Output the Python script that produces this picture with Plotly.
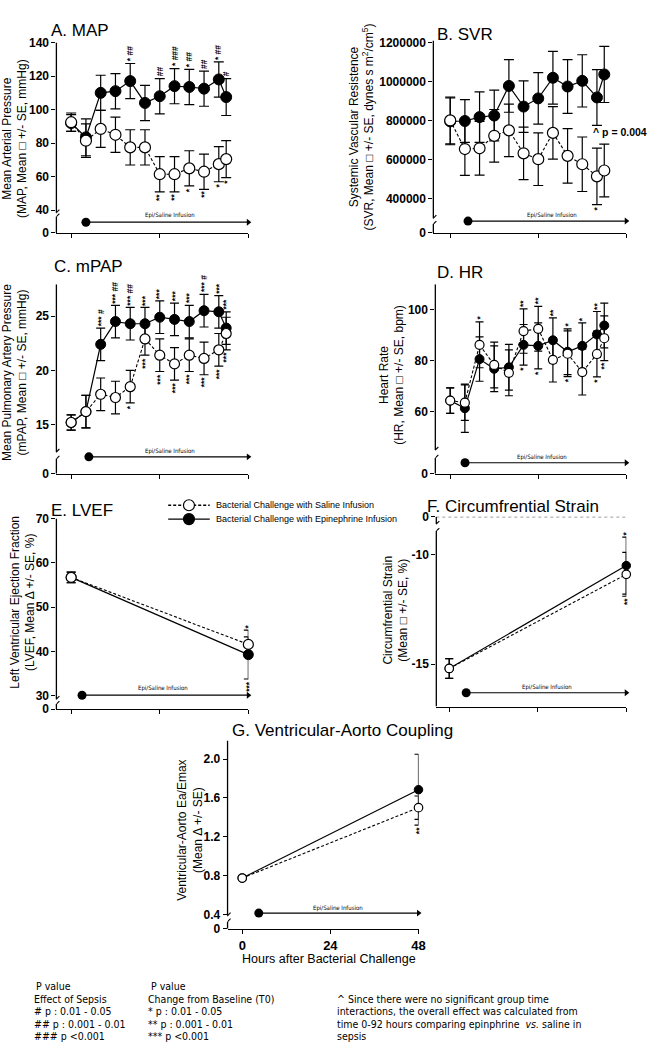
import plotly.graph_objects as go

W, H = 659, 1049
FONT = "Liberation Sans, Arial, sans-serif"
NARROW = "Liberation Sans Narrow, Arial Narrow, DejaVu Sans Condensed, Liberation Sans, Arial"

# ---------------- data ----------------
HOURS = [0, 8, 16, 24, 32, 40, 48, 56, 64, 72, 80, 84]
HOURS_2 = [0, 48]

EPI_A = [92, 83.5, 110, 111, 117, 104, 108, 114, 113.5, 112.5, 118, 107.5]
EPI_A_SE = [5, 11, 10.5, 10.5, 10.5, 10.5, 10.5, 10.5, 10.5, 10.5, 10.5, 11]
SAL_A = [92.5, 81.5, 88.5, 85, 77.5, 77.5, 61.5, 61.5, 65, 63, 67.5, 70.5]
SAL_A_SE = [5.5, 10, 11, 10.5, 10.5, 10.5, 10.5, 10.5, 10.5, 10.5, 10.5, 11]
SIG_A_UP = ["", "", "", "", "* ##", "", "##", "* ###", "* ##", "##", "* ##", "#"]
SIG_A_DN = ["", "", "", "", "", "", "**", "**", "*", "**", "*", "*"]

EPI_B = [795000, 797000, 817000, 825000, 977000, 871000, 913000, 1019000, 974000, 1003000, 918000, 1036000]
EPI_B_SE = [120000, 110000, 130000, 130000, 135000, 132000, 132000, 135000, 138000, 134000, 143000, 144000]
SAL_B = [800000, 653000, 657000, 721000, 749000, 631000, 601000, 736000, 618000, 575000, 513000, 543000]
SAL_B_SE = [120000, 135000, 138000, 135000, 135000, 135000, 135000, 135000, 140000, 140000, 145000, 135000]
SIG_B_UP = [""] * 12
SIG_B_DN = ["", "", "", "", "", "", "", "", "", "", "*", ""]

EPI_C = [15.2, 16.2, 22.4, 24.5, 24.3, 24.3, 24.9, 24.7, 24.5, 25.5, 25.4, 23.9]
EPI_C_SE = [0.7, 1.5, 1.5, 1.5, 1.5, 1.5, 1.5, 1.5, 1.5, 1.5, 1.5, 1.5]
SAL_C = [15.2, 16.2, 17.8, 17.5, 18.5, 22.9, 21.4, 20.6, 21.4, 21.1, 21.9, 23.4]
SAL_C_SE = [0.7, 1.5, 1.5, 1.5, 1.5, 1.5, 1.5, 1.5, 1.5, 1.5, 1.5, 1.5]
SIG_C_UP = ["", "", "*** #", "*** ##", "*** ##", "***", "***", "***", "***", "*** #", "***", "***"]
SIG_C_DN = ["", "", "", "", "*", "***", "***", "***", "***", "***", "***", "***"]

EPI_D = [64.3, 61.3, 80.6, 76.8, 77.4, 86.2, 85.8, 88.0, 83.5, 85.8, 90.3, 93.8]
EPI_D_SE = [5, 9.5, 8.7, 9, 9, 8, 9, 8.8, 9, 9, 9, 8.8]
SAL_D = [64.3, 63.5, 86.2, 78.3, 75.2, 91.6, 92.5, 80.3, 82.7, 75.5, 82.6, 88.8]
SAL_D_SE = [5, 7, 9, 9, 9, 8.7, 8.8, 8.7, 9, 9, 9, 8.8]
SIG_D_UP = ["", "", "*", "", "", "**", "**", "**", "*", "*", "**", ""]
SIG_D_DN = ["", "", "", "", "", "*", "*", "", "*", "", "*", "**"]

EPI_E = [56.7, 39.3]
EPI_E_SE = [1.2, 5.5]
SAL_E = [56.7, 41.6]
SAL_E_SE = [1.2, 1.7]
SIG_E_UP = ["", "*"]
SIG_E_DN = ["", "***"]

EPI_F = [-15.2, -10.5]
EPI_F_SE = [0.45, 1.3]
SAL_F = [-15.2, -10.9]
SAL_F_SE = [0.45, 1.0]
SIG_F_UP = ["", "*"]
SIG_F_DN = ["", "**"]

EPI_G = [0.775, 1.685]
EPI_G_SE = [0.02, 0.365]
SAL_G = [0.775, 1.50]
SAL_G_SE = [0.02, 0.12]
SIG_G_UP = ["", ""]
SIG_G_DN = ["", "**"]

G_XTICKS = [0, 24, 48]


def pxx(x):
    return x / W


def pyy(y):
    return 1 - y / H


fig = go.Figure()
annotations = []
shapes = []


def add_panel(n, p, xs, epi, epi_se, sal, sal_se, up, dn):
    xa = 'x' if n == 1 else f'x{n}'
    ya = 'y' if n == 1 else f'y{n}'
    lx = 'xaxis' if n == 1 else f'xaxis{n}'
    ly = 'yaxis' if n == 1 else f'yaxis{n}'
    ms, cw = p['ms'], p['cw']
    # epinephrine (filled, solid)
    fig.add_trace(go.Scatter(
        x=xs, y=epi, mode='lines+markers', xaxis=xa, yaxis=ya, showlegend=False,
        line=dict(color='black', width=1.2),
        marker=dict(symbol='circle', size=ms, color='black', line=dict(color='black', width=1)),
        error_y=dict(type='data', array=epi_se, color='black', thickness=1.2, width=cw),
        cliponaxis=False, hoverinfo='skip'))
    # saline (open, dashed)
    fig.add_trace(go.Scatter(
        x=xs, y=sal, mode='lines+markers', xaxis=xa, yaxis=ya, showlegend=False,
        line=dict(color='black', width=1.1, dash='3px,2px'),
        marker=dict(symbol='circle', size=ms, color='white', line=dict(color='black', width=1.2)),
        error_y=dict(type='data', array=sal_se, color='black', thickness=1.2, width=cw),
        cliponaxis=False, hoverinfo='skip'))

    xr, yr = p['xr'], p['yr']
    fig.update_layout(**{
        lx: dict(domain=[pxx(p['xd'][0]), pxx(p['xd'][1])], range=list(xr), anchor=ya,
                 showline=True, linecolor='black', linewidth=1.3, ticks='outside', ticklen=4,
                 tickwidth=1.3, tickcolor='black', tickvals=p['xt'],
                 showticklabels=p.get('xlabels', False),
                 tickfont=dict(family=FONT, size=13, color='black', weight='bold'),
                 showgrid=False, zeroline=False, fixedrange=True),
        ly: dict(domain=[pyy(p['yd'][1]), pyy(p['yd'][0])], range=list(yr), anchor=xa,
                 showline=False, ticks='outside', ticklen=4, tickwidth=1.3, tickcolor='black',
                 tickvals=p['yt'], ticktext=p['ytt'],
                 tickfont=dict(family=FONT, size=12, color='black', weight='bold'),
                 showgrid=False, zeroline=False, fixedrange=True),
    })

    g_lo, g_hi = p['gap']
    lw = dict(color='black', width=1.3)
    shapes.append(dict(type='line', xref=f'{xa} domain', yref=ya, x0=0, x1=0,
                       y0=g_hi, y1=yr[1], line=lw))
    shapes.append(dict(type='line', xref=f'{xa} domain', yref=ya, x0=0, x1=0,
                       y0=yr[0], y1=g_lo, line=lw))
    for gv in (g_lo, g_hi):
        shapes.append(dict(type='line', xref=xa, yref=ya, xsizemode='pixel', ysizemode='pixel',
                           xanchor=xr[0], yanchor=gv, x0=-3, x1=3, y0=-3, y1=3,
                           line=dict(color='black', width=1.1)))

    # infusion arrow: start dot, line, arrow head
    s, e, yv = p['inf']
    shapes.append(dict(type='line', xref=xa, yref=ya, x0=s, x1=e, y0=yv, y1=yv,
                       line=dict(color='black', width=1.2)))
    fig.add_trace(go.Scatter(x=[s], y=[yv], mode='markers', xaxis=xa, yaxis=ya, showlegend=False,
                             marker=dict(size=p.get('ims', 9), color='black'), hoverinfo='skip',
                             cliponaxis=False))
    fig.add_trace(go.Scatter(x=[e], y=[yv], mode='markers', xaxis=xa, yaxis=ya, showlegend=False,
                             marker=dict(symbol='triangle-right', size=6, color='black',
                                         line=dict(width=0)),
                             hoverinfo='skip', cliponaxis=False))
    tx, ty = p['inftext']
    annotations.append(dict(x=tx, y=ty, xref=xa, yref=ya, text='Epi/Saline Infusion',
                            showarrow=False, font=dict(family=NARROW, size=6, color='black'),
                            xanchor='center', yanchor='middle'))

    # significance marks
    sig_font = dict(family=FONT, size=8.5, color='black', weight='bold')
    for i, t in enumerate(up):
        if t:
            yt = max(epi[i] + epi_se[i], sal[i] + sal_se[i])
            annotations.append(dict(x=xs[i], y=yt, xref=xa, yref=ya, text=t, textangle=-90,
                                    showarrow=False, xanchor='center', yanchor='bottom',
                                    yshift=1, borderpad=0, font=sig_font))
    for i, t in enumerate(dn):
        if t:
            yb = min(epi[i] - epi_se[i], sal[i] - sal_se[i])
            annotations.append(dict(x=xs[i], y=yb, xref=xa, yref=ya, text=t, textangle=-90,
                                    showarrow=False, xanchor='center', yanchor='top',
                                    yshift=-1, borderpad=0, font=sig_font))

    # panel title
    tx, ty = p['title_pos']
    annotations.append(dict(x=pxx(tx), y=pyy(ty), xref='paper', yref='paper', text=p['title'],
                            showarrow=False, xanchor='left', yanchor='middle',
                            font=dict(family=FONT, size=17, color='black')))
    # y title
    yx, yy = p['ytitle_pos']
    annotations.append(dict(x=pxx(yx), y=pyy(yy), xref='paper', yref='paper', text=p['ytitle'],
                            showarrow=False, xanchor='center', yanchor='middle', textangle=-90,
                            font=dict(family=FONT, size=12, color='black')))


PANELS = {
    'A': dict(xd=(57, 251), yd=(36, 229), xr=(-8, 96), yr=(26.5, 140), xt=[0, 48, 96],
              yt=[26.5, 40, 60, 80, 100, 120, 140],
              ytt=['0', '40', '60', '80', '100', '120', '140'], gap=(36.2, 38.6),
              inf=(8, 96, 32.9), inftext=(53.6, 37.0), ms=11, cw=5,
              title='A. MAP', title_pos=(50, 24),
              ytitle='Mean Arterial Pressure<br>(MAP, Mean \u25a1 +/- SE, mmHg)', ytitle_pos=(15, 133)),
    'B': dict(xd=(438, 633), yd=(34, 229), xr=(-9.2, 96), yr=(222340, 1210000), xt=[0, 48, 96],
              yt=[222340, 400000, 600000, 800000, 1000000, 1200000],
              ytt=['0', '400000', '600000', '800000', '1000000', '1200000'], gap=(268000, 298000),
              inf=(9.7, 96, 283250), inftext=(55.6, 313700), ms=11, cw=5,
              title='B. SVR', title_pos=(440, 28),
              ytitle='Systemic Vascular Resistence<br>(SVR, Mean \u25a1 +/- SE, dynes s m<sup>2</sup>/cm<sup>5</sup>)',
              ytitle_pos=(366, 122)),
    'C': dict(xd=(57, 251), yd=(281, 473), xr=(-8, 96), yr=(10.48, 27.94), xt=[0, 48, 96],
              yt=[10.48, 15, 20, 25], ytt=['0', '15', '20', '25'], gap=(11.85, 12.48),
              inf=(9.6, 96, 12.03), inftext=(53.6, 12.6), ms=10, cw=4.5,
              title='C. mPAP', title_pos=(53, 263),
              ytitle='Mean Pulmonary Artery Pressure<br>(mPAP, Mean \u25a1 +/- SE, mmHg)',
              ytitle_pos=(15, 370)),
    'D': dict(xd=(440, 633), yd=(281, 473), xr=(-8.1, 96), yr=(35.6, 110), xt=[0, 48, 96],
              yt=[35.6, 60, 80, 100], ytt=['0', '60', '80', '100'], gap=(41.8, 44.9),
              inf=(8.1, 96, 39.9), inftext=(50.2, 42.2), ms=9, cw=4,
              title='D. HR', title_pos=(440, 269),
              ytitle='Heart Rate<br>(HR, Mean \u25a1 +/- SE, bpm)', ytitle_pos=(396, 373)),
    'E': dict(xd=(57, 251), yd=(518.3, 711.7), xr=(-4, 48), yr=(27, 70), xt=[0, 24, 48],
              yt=[27, 30, 40, 50, 60, 70], ytt=['0', '30', '40', '50', '60', '70'],
              gap=(28.16, 29.27), inf=(2.95, 48, 30.15), inftext=(24.9, 31.7), ms=10, cw=4.5,
              title='E. LVEF', title_pos=(50, 510),
              ytitle='Left Ventricular Ejection Fraction<br>(LVEF, Mean \u0394 +/- SE, %)',
              ytitle_pos=(23, 603)),
    'F': dict(xd=(441, 633), yd=(516.7, 709), xr=(-3.5, 48), yr=(-16.94, -8.27), xt=[0, 24, 48],
              yt=[-8.27, -10, -15], ytt=['0', '-10', '-15'], gap=(-8.92, -8.60),
              inf=(4.6, 48, -16.31), inftext=(26.5, -16.04), ms=8.5, cw=4,
              title='F. Circumfrential Strain', title_pos=(430, 506),
              ytitle='Circumfrential Strain<br>(Mean \u25a1 +/- SE, %)', ytitle_pos=(400, 611)),
    'G': dict(xd=(230, 423), yd=(743.3, 934.3), xr=(-4, 48), yr=(0.252, 2.193), xt=G_XTICKS,
              xlabels=True, yt=[0.252, 0.4, 0.8, 1.2, 1.6, 2.0],
              ytt=['0', '0.4', '0.8', '1.2', '1.6', '2.0'], gap=(0.326, 0.387),
              inf=(4.5, 48, 0.414), inftext=(26, 0.471), ms=8.5, cw=4,
              title='G. Ventricular-Aorto Coupling', title_pos=(232, 733),
              ytitle='Ventricular-Aorto Ea/Emax<br>(Mean \u0394 +/- SE)', ytitle_pos=(192, 834)),
}

add_panel(1, PANELS['A'], HOURS, EPI_A, EPI_A_SE, SAL_A, SAL_A_SE, SIG_A_UP, SIG_A_DN)
add_panel(2, PANELS['B'], HOURS, EPI_B, EPI_B_SE, SAL_B, SAL_B_SE, SIG_B_UP, SIG_B_DN)
add_panel(3, PANELS['C'], HOURS, EPI_C, EPI_C_SE, SAL_C, SAL_C_SE, SIG_C_UP, SIG_C_DN)
add_panel(4, PANELS['D'], HOURS, EPI_D, EPI_D_SE, SAL_D, SAL_D_SE, SIG_D_UP, SIG_D_DN)
add_panel(5, PANELS['E'], HOURS_2, EPI_E, EPI_E_SE, SAL_E, SAL_E_SE, SIG_E_UP, SIG_E_DN)
add_panel(6, PANELS['F'], HOURS_2, EPI_F, EPI_F_SE, SAL_F, SAL_F_SE, SIG_F_UP, SIG_F_DN)
add_panel(7, PANELS['G'], HOURS_2, EPI_G, EPI_G_SE, SAL_G, SAL_G_SE, SIG_G_UP, SIG_G_DN)

# dotted zero line in F
shapes.append(dict(type='line', xref='x6 domain', yref='y6', x0=0, x1=1, y0=-8.27, y1=-8.27,
                   line=dict(color='black', width=0.8, dash='dot')))

# SVR overall p value
annotations.append(dict(x=pxx(656), y=pyy(127), xref='paper', yref='paper', text='<b>^ p = 0.004</b>',
                        showarrow=False, xanchor='right', yanchor='middle',
                        font=dict(family=FONT, size=10.5, color='black')))

# G x-axis title
annotations.append(dict(x=pxx(333), y=pyy(965), xref='paper', yref='paper',
                        text='Hours after Bacterial Challenge', showarrow=False,
                        xanchor='center', yanchor='middle',
                        font=dict(family=FONT, size=12.5, color='black')))

# manual legend
LEGEND_ROWS = [
    ('Bacterial Challenge with Saline Infusion', 505, 'white', 'dash'),
    ('Bacterial Challenge with Epinephrine Infusion', 519, 'black', 'solid'),
]
for label, ly, fill, dash in LEGEND_ROWS:
    shapes.append(dict(type='line', xref='paper', yref='paper', x0=pxx(170), x1=pxx(212),
                       y0=pyy(ly), y1=pyy(ly),
                       line=dict(color='black', width=1.3, dash=('3px,2px' if dash == 'dash' else 'solid'))))
    shapes.append(dict(type='circle', xref='paper', yref='paper', xsizemode='pixel', ysizemode='pixel',
                       xanchor=pxx(191), yanchor=pyy(ly), x0=-5.5, x1=5.5, y0=-5.5, y1=5.5,
                       fillcolor=fill, line=dict(color='black', width=1.2)))
    annotations.append(dict(x=pxx(216), y=pyy(ly), xref='paper', yref='paper', text=label,
                            showarrow=False, xanchor='left', yanchor='middle',
                            font=dict(family=FONT, size=9, color='black')))

# footer notes
FOOT_COL1 = ['P value', 'Effect of Sepsis', '# p : 0.01 - 0.05', '## p : 0.001 - 0.01', '### p <0.001']
FOOT_COL2 = ['P value', 'Change from Baseline (T0)', '* p : 0.01 - 0.05', '** p : 0.001 - 0.01', '*** p <0.001']
FOOT_COL3 = ['^ Since there were no significant group time',
             'interactions, the overall effect was calculated from',
             'time 0-92 hours comparing epinphrine  <i>vs.</i> saline in',
             'sepsis']
FOOT_Y = [992, 1005, 1018, 1030.5, 1043]
for i, t in enumerate(FOOT_COL1):
    annotations.append(dict(x=pxx(34 if i == 0 else 32), y=pyy(FOOT_Y[i]), xref='paper', yref='paper',
                            text=t, showarrow=False, xanchor='left', yanchor='middle',
                            font=dict(family=NARROW, size=10.5, color='black')))
for i, t in enumerate(FOOT_COL2):
    annotations.append(dict(x=pxx(151 if i == 0 else 148), y=pyy(FOOT_Y[i]), xref='paper', yref='paper',
                            text=t, showarrow=False, xanchor='left', yanchor='middle',
                            font=dict(family=NARROW, size=10.5, color='black')))
for i, t in enumerate(FOOT_COL3):
    annotations.append(dict(x=pxx(339), y=pyy(FOOT_Y[i + 1]), xref='paper', yref='paper',
                            text=t, showarrow=False, xanchor='left', yanchor='middle',
                            font=dict(family=NARROW, size=10.5, color='black')))

fig.update_layout(width=W, height=H, margin=dict(l=0, r=0, t=0, b=0), autosize=False,
                  paper_bgcolor='white', plot_bgcolor='white', showlegend=False,
                  annotations=annotations, shapes=shapes,
                  font=dict(family=FONT, color='black'))

fig.write_html("out.html", config={'displayModeBar': False},
               post_script="document.body.style.margin='0';document.body.style.overflow='hidden';")
